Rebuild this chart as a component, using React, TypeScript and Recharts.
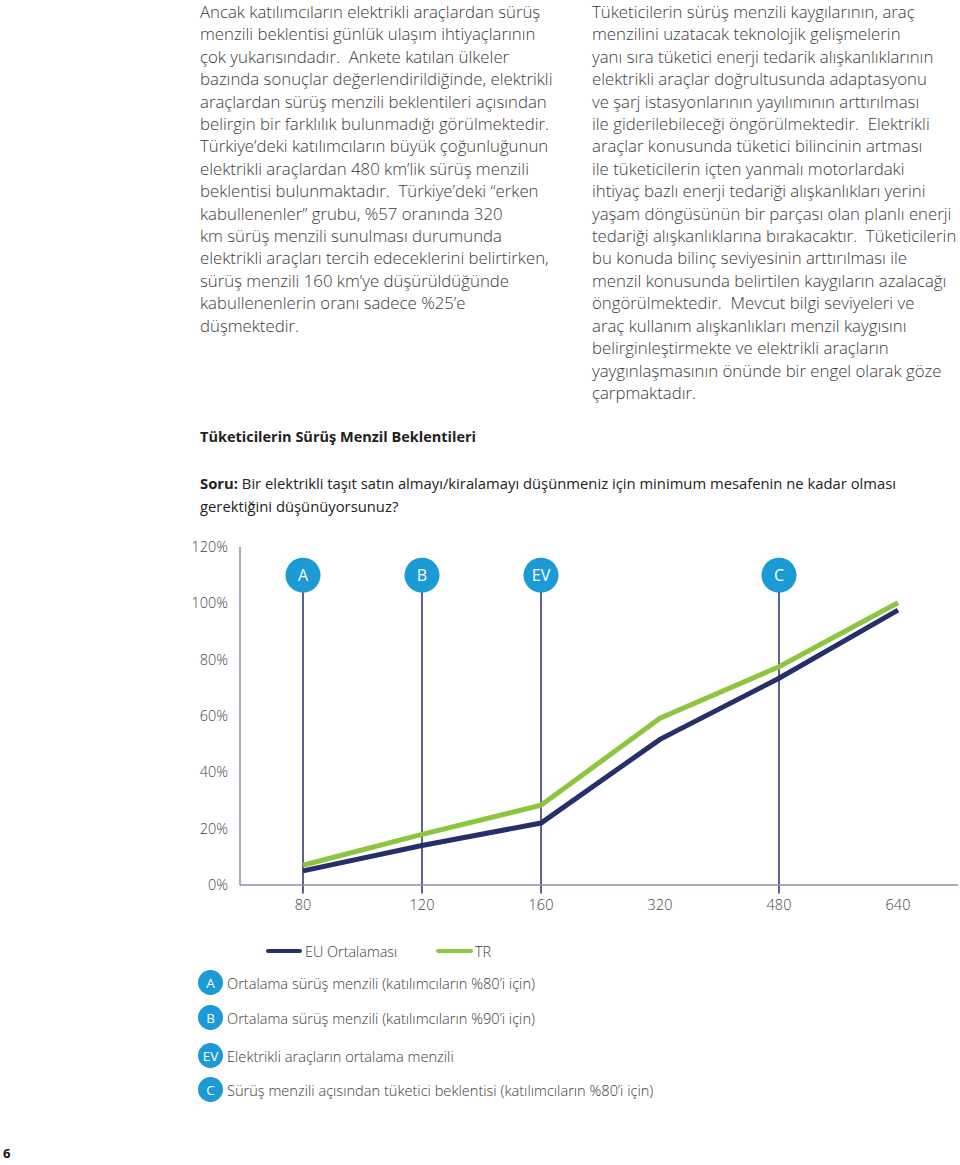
import React from 'react';
import { LineChart, Line, XAxis, YAxis, ReferenceLine, ReferenceDot } from 'recharts';

const categories = ['80', '120', '160', '320', '480', '640'];
const euValues = [5, 14, 22, 51.7, 73.4, 97.6];
const trValues = [7, 18, 28.3, 59.2, 77.5, 100.2];
const yTicks = [0, 20, 40, 60, 80, 100, 120];
const markers = [
  { label: 'A', category: '80', text: 'Ortalama sürüş menzili (katılımcıların %80’i için)' },
  { label: 'B', category: '120', text: 'Ortalama sürüş menzili (katılımcıların %90’i için)' },
  { label: 'EV', category: '160', text: 'Elektrikli araçların ortalama menzili' },
  { label: 'C', category: '480', text: 'Sürüş menzili açısından tüketici beklentisi (katılımcıların %80’i için)' },
];
const seriesNames = { eu: 'EU Ortalaması', tr: 'TR' };

const leftLines = [
  'Ancak katılımcıların elektrikli araçlardan sürüş',
  'menzili beklentisi günlük ulaşım ihtiyaçlarının',
  'çok yukarısındadır.  Ankete katılan ülkeler',
  'bazında sonuçlar değerlendirildiğinde, elektrikli',
  'araçlardan sürüş menzili beklentileri açısından',
  'belirgin bir farklılık bulunmadığı görülmektedir.',
  'Türkiye’deki katılımcıların büyük çoğunluğunun',
  'elektrikli araçlardan 480 km’lik sürüş menzili',
  'beklentisi bulunmaktadır.  Türkiye’deki “erken',
  'kabullenenler” grubu, %57 oranında 320',
  'km sürüş menzili sunulması durumunda',
  'elektrikli araçları tercih edeceklerini belirtirken,',
  'sürüş menzili 160 km’ye düşürüldüğünde',
  'kabullenenlerin oranı sadece %25’e',
  'düşmektedir.',
];
const rightLines = [
  'Tüketicilerin sürüş menzili kaygılarının, araç',
  'menzilini uzatacak teknolojik gelişmelerin',
  'yanı sıra tüketici enerji tedarik alışkanlıklarının',
  'elektrikli araçlar doğrultusunda adaptasyonu',
  've şarj istasyonlarının yayılımının arttırılması',
  'ile giderilebileceği öngörülmektedir.  Elektrikli',
  'araçlar konusunda tüketici bilincinin artması',
  'ile tüketicilerin içten yanmalı motorlardaki',
  'ihtiyaç bazlı enerji tedariği alışkanlıkları yerini',
  'yaşam döngüsünün bir parçası olan planlı enerji',
  'tedariği alışkanlıklarına bırakacaktır.  Tüketicilerin',
  'bu konuda bilinç seviyesinin arttırılması ile',
  'menzil konusunda belirtilen kaygıların azalacağı',
  'öngörülmektedir.  Mevcut bilgi seviyeleri ve',
  'araç kullanım alışkanlıkları menzil kaygısını',
  'belirginleştirmekte ve elektrikli araçların',
  'yaygınlaşmasının önünde bir engel olarak göze',
  'çarpmaktadır.',
];

const NAVY = '#262f6a';
const GREEN = '#8cc63f';
const BLUE = '#1b9ad6';
const AXIS = '#8f8cab';
const TEXT = '#3a3a3a';
const FONT = '"Open Sans", "Noto Sans", sans-serif';

const data = categories.map((c, i) => ({ cat: c, eu: euValues[i], tr: trValues[i] }));

const colStyle: React.CSSProperties = {
  position: 'absolute',
  fontSize: 16.8,
  fontWeight: 300,
  lineHeight: '22.4px',
  color: TEXT,
  whiteSpace: 'pre',
  fontFamily: FONT,
};

export default function App() {
  return (
    <div style={{ position: 'absolute', left: 0, top: 0, width: 960, height: 1165, background: '#fff', fontFamily: FONT, overflow: 'hidden' }}>
      <div style={{ ...colStyle, left: 200, top: 1 }}>
        {leftLines.map((l, i) => <div key={i}>{l}</div>)}
      </div>
      <div style={{ ...colStyle, left: 592, top: 1 }}>
        {rightLines.map((l, i) => <div key={i}>{l}</div>)}
      </div>

      <div style={{ position: 'absolute', left: 200, top: 427, fontSize: 14.5, lineHeight: '20px', fontWeight: 700, color: '#222', whiteSpace: 'pre' }}>
        Tüketicilerin Sürüş Menzil Beklentileri
      </div>
      <div style={{ position: 'absolute', left: 200, top: 471.5, fontSize: 14.8, lineHeight: '23px', color: '#222', whiteSpace: 'pre' }}>
        <div><b>Soru:</b> Bir elektrikli taşıt satın almayı/kiralamayı düşünmeniz için minimum mesafenin ne kadar olması</div>
        <div>gerektiğini düşünüyorsunuz?</div>
      </div>

      <div style={{ position: 'absolute', left: 170, top: 530 }}>
        <LineChart width={790} height={400} data={data} margin={{ top: 17, right: 2, left: 0, bottom: 15 }}>
          <XAxis
            dataKey="cat"
            height={30}
            padding={{ left: 63, right: 60 }}
            stroke={AXIS}
            strokeWidth={1.5}
            tickLine={false}
            tickSize={0}
            tickMargin={15}
            tick={{ fill: '#444', fontSize: 14.5, fontFamily: FONT, fontWeight: 300 }}
          />
          <YAxis
            width={70}
            domain={[0, 120]}
            ticks={yTicks}
            interval={0}
            stroke={AXIS}
            strokeWidth={1.5}
            tickLine={false}
            tickSize={0}
            tickMargin={12}
            tickFormatter={(v: number) => `${v}%`}
            tick={{ fill: '#444', fontSize: 14.5, fontFamily: FONT, fontWeight: 300 }}
          />
          {markers.map((m) => (
            <ReferenceLine
              key={'l' + m.label}
              segment={[{ x: m.category, y: -3 }, { x: m.category, y: 110 }]}
              stroke={NAVY}
              strokeWidth={1.5}
              ifOverflow="visible"
            />
          ))}
          <Line type="linear" dataKey="eu" name={seriesNames.eu} stroke={NAVY} strokeWidth={5} dot={false} isAnimationActive={false} />
          <Line type="linear" dataKey="tr" name={seriesNames.tr} stroke={GREEN} strokeWidth={5} dot={false} isAnimationActive={false} />
          {markers.map((m) => (
            <ReferenceDot
              key={'d' + m.label}
              x={m.category}
              y={110}
              r={17.5}
              ifOverflow="visible"
              shape={(p: any) => (
                <g>
                  <circle cx={p.cx} cy={p.cy} r={17.5} fill={BLUE} />
                  <text x={p.cx} y={p.cy} textAnchor="middle" dominantBaseline="central" fill="#fff" fontSize={16} fontFamily={FONT}>
                    {m.label}
                  </text>
                </g>
              )}
            />
          ))}
        </LineChart>
      </div>

      {/* legend */}
      <div style={{ position: 'absolute', left: 266, top: 941, height: 20, display: 'flex', alignItems: 'center', fontSize: 14.4, fontWeight: 300, color: TEXT }}>
        <span style={{ display: 'inline-block', width: 36, height: 4, borderRadius: 2, background: NAVY, marginRight: 3 }} />
        <span style={{ width: 131 }}>{seriesNames.eu}</span>
        <span style={{ display: 'inline-block', width: 37, height: 4, borderRadius: 2, background: GREEN, marginRight: 2 }} />
        <span>{seriesNames.tr}</span>
      </div>
      {markers.map((m, i) => (
        <div key={m.label} style={{ position: 'absolute', left: 198, top: [970, 1005, 1043, 1077][i], height: 25, display: 'flex', alignItems: 'center', fontSize: 14.6, fontWeight: 300, color: TEXT, whiteSpace: 'pre' }}>
          <span style={{ width: 25, height: 25, borderRadius: '50%', background: BLUE, color: '#fff', display: 'inline-flex', alignItems: 'center', justifyContent: 'center', fontSize: 13.5, fontWeight: 400, marginRight: 4 }}>{m.label}</span>
          <span>{m.text}</span>
        </div>
      ))}

      <div style={{ position: 'absolute', left: 3, top: 1144, fontSize: 13, lineHeight: '18px', fontWeight: 700, color: '#111' }}>6</div>
    </div>
  );
}
